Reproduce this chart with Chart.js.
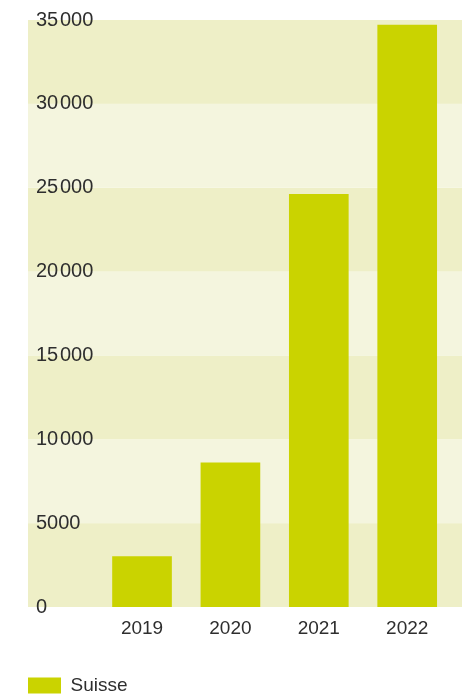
<!DOCTYPE html>
<html>
<head>
<meta charset="utf-8">
<script src="https://cdn.jsdelivr.net/npm/chart.js@4"></script>
<style>
  html, body { margin: 0; padding: 0; background: #fff; }
  #wrap { width: 462px; height: 695px; }
</style>
</head>
<body>
<div id="wrap"><canvas id="myChart" width="462" height="695"></canvas></div>
<script>
const years = [2019, 2020, 2021, 2022];
const suisse = [3000, 8600, 24600, 34700];
const yTicks = [0, 5000, 10000, 15000, 20000, 25000, 30000, 35000];

const barColor = '#cad300';
const bandDark = '#eeefc7';
const bandLight = '#f4f5de';
const textColor = '#2e2e2e';
const fontFamily = 'Liberation Sans, Arial, sans-serif';

// "35 000" style grouping with a narrow space
function fmt(v) {
    if (v < 10000) return String(v);
    return String(v).replace(/\B(?=(\d{3})+(?!\d))/g, '\u200A');
}

// alternating horizontal bands behind the bars, one per y step
const bands = {
    id: 'bands',
    beforeDraw(chart) {
        const {ctx, chartArea, scales} = chart;
        const y = scales.y;
        ctx.save();
        for (let i = 0; i < yTicks.length - 1; i++) {
            const top = y.getPixelForValue(yTicks[i + 1]);
            const bottom = y.getPixelForValue(yTicks[i]);
            ctx.fillStyle = i % 2 === 0 ? bandDark : bandLight;
            ctx.fillRect(chartArea.left, top, chartArea.right - chartArea.left, bottom - top);
        }
        ctx.restore();
    }
};

const data = {
    datasets: [{
        label: 'Suisse',
        data: years.map((yr, i) => ({x: yr, y: suisse[i]})),
        backgroundColor: barColor,
        borderWidth: 0,
        barThickness: 59
    }]
};

const config = {
    type: 'bar',
    data,
    plugins: [bands],
    options: {
        responsive: false,
        animation: false,
        layout: {padding: {left: 28, right: 0, top: 20, bottom: -10}},
        scales: {
            x: {
                type: 'linear',
                min: 2017.71,
                max: 2022.62,
                offset: false,
                grid: {display: false, drawTicks: false},
                border: {display: false},
                afterBuildTicks(scale) {
                    scale.ticks = years.map(v => ({value: v}));
                },
                afterFit(scale) {
                    scale.height = 69;
                },
                ticks: {
                    color: textColor,
                    font: {family: fontFamily, size: 19},
                    padding: 10,
                    callback: v => String(v)
                }
            },
            y: {
                min: 0,
                max: 35000,
                grid: {display: false, drawTicks: false},
                border: {display: false},
                afterFit(scale) {
                    scale.width = 0;
                },
                afterBuildTicks(scale) {
                    scale.ticks = yTicks.map(v => ({value: v}));
                },
                ticks: {
                    mirror: true,
                    padding: 8,
                    color: textColor,
                    font: {family: fontFamily, size: 20},
                    callback: v => fmt(v)
                }
            }
        },
        plugins: {
            legend: {
                position: 'bottom',
                align: 'start',
                labels: {
                    boxWidth: 33,
                    boxHeight: 16,
                    padding: 0,
                    color: textColor,
                    font: {family: fontFamily, size: 19}
                }
            },
            tooltip: {enabled: false}
        }
    }
};

const myChart = new Chart(document.getElementById('myChart'), config);
</script>
</body>
</html>
